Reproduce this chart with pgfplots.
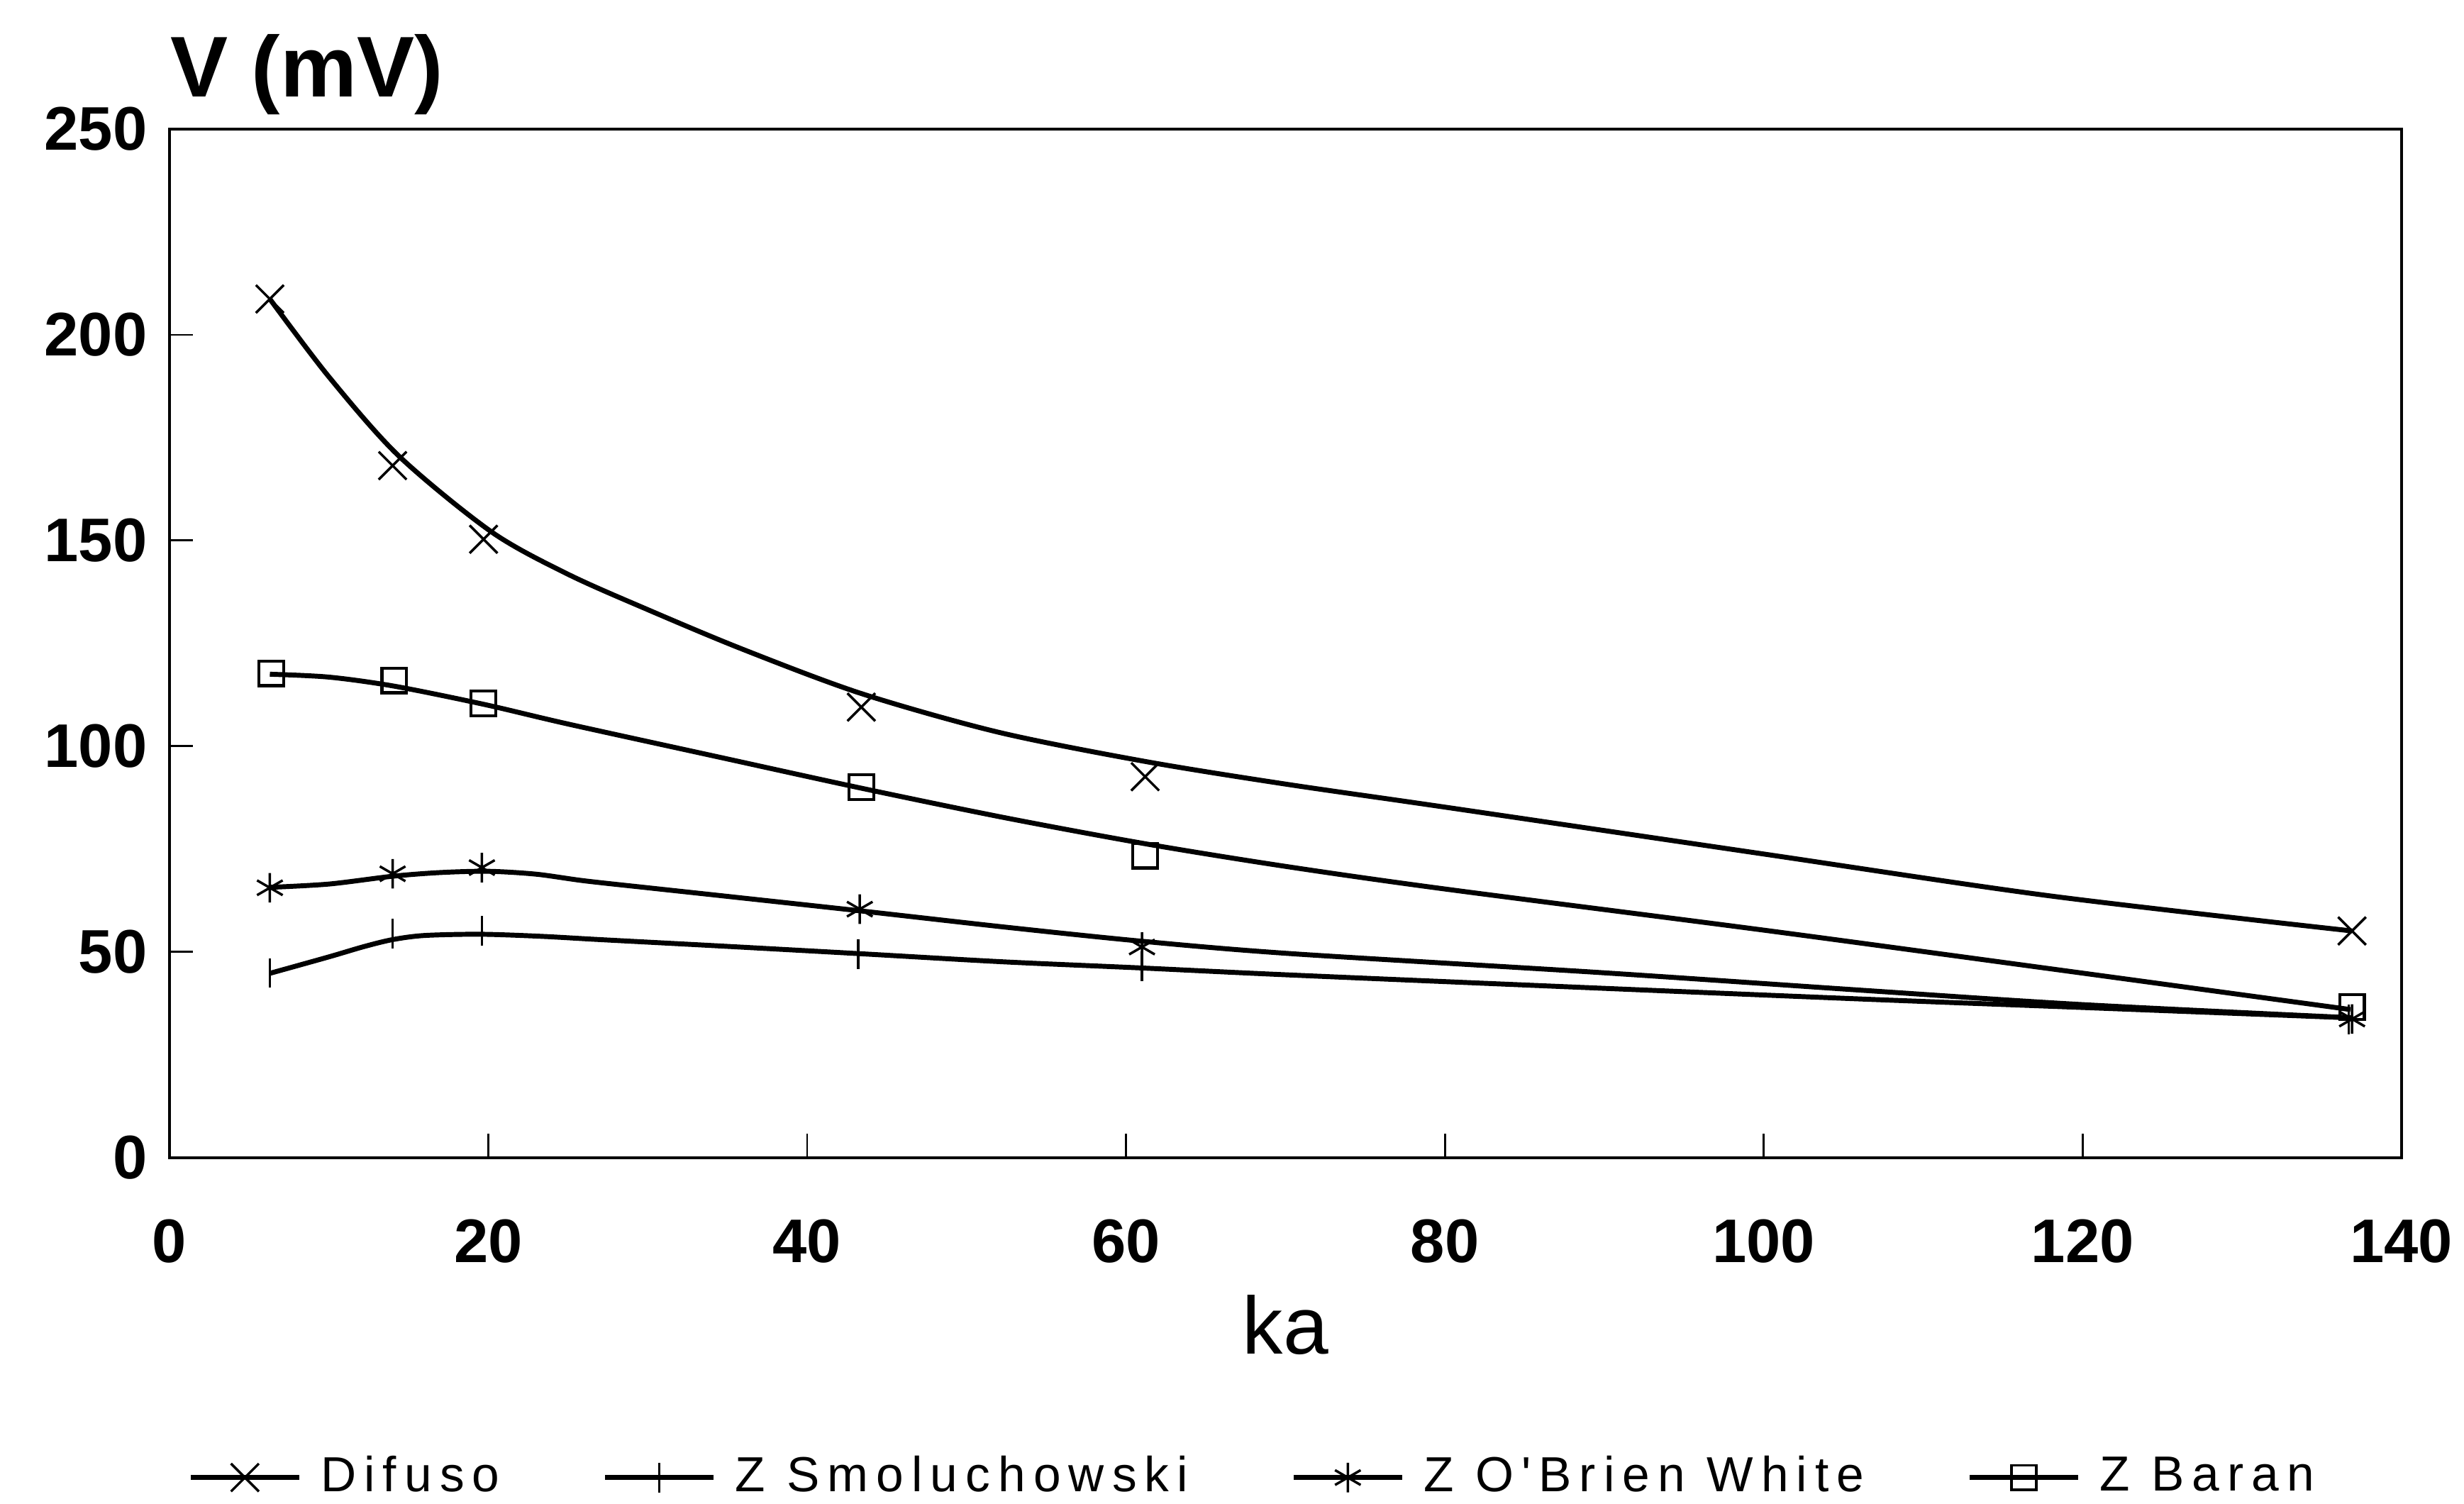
\documentclass[border=0pt]{standalone}
\usepackage{fontspec}
\setmainfont{Liberation Sans}
\newfontfamily\legfont[LetterSpace=16]{Liberation Sans}
\usepackage{pgfplots}
\usepackage{pgfplotstable}
\pgfplotsset{compat=1.18}

% marker positions
\pgfplotstableread{
x y
6.3 208.7
14.0 168.2
19.7 150.3
43.4 109.5
61.2 92.6
136.9 55.1
}\difmarks
\pgfplotstableread{
x y
6.3 44.9
14.0 54.4
19.6 55.1
43.2 49.5
61.0 46.5
136.7 33.6
}\smolmarks
\pgfplotstableread{
x y
6.3 65.6
14.0 69.0
19.6 70.5
43.3 60.4
61.0 51.2
136.9 33.7
}\obmarks
\pgfplotstableread{
x y
6.4 117.7
14.1 116.0
19.7 110.4
43.4 90.1
61.2 73.4
136.9 36.6
}\barmarks

% fitted curves as drawn
\pgfplotstableread{
x y
6.3 208.7
10.0 189.8
14.4 170.5
20.2 152.1
25.0 141.8
30.0 133.2
36.0 123.5
43.4 112.8
52.0 103.4
61.2 96.3
70.0 90.8
80.0 85.2
100.0 73.8
118.0 63.6
136.9 55.1
}\difline
\pgfplotstableread{
x y
6.3 44.8
10.0 48.8
12.2 51.3
14.0 53.0
16.0 54.0
19.5 54.3
23.3 53.8
27.0 53.0
34.3 51.5
43.2 49.6
52.3 47.6
61.0 46.1
70.3 44.4
89.7 41.2
106.5 38.5
120.0 36.5
136.7 34.0
}\smolline
\pgfplotstableread{
x y
6.3 65.7
10.0 66.5
14.0 68.4
17.0 69.3
20.0 69.6
23.0 68.9
26.0 67.3
30.0 65.6
34.3 63.8
43.3 60.0
52.5 56.0
61.0 52.6
70.3 49.6
89.7 45.0
106.5 40.6
120.0 37.2
136.9 34.0
}\obline
\pgfplotstableread{
x y
6.3 117.5
10.0 116.8
14.1 114.6
19.7 110.2
25.0 105.4
34.3 97.5
43.4 89.8
52.3 82.7
61.2 76.3
70.0 70.8
80.0 65.3
100.0 55.3
118.0 45.9
136.8 36.0
}\barline

\begin{document}
\begin{tikzpicture}
\begin{axis}[
  name=ax,
  scale only axis,
  width=453.2pt, height=208.8pt,
  xmin=0, xmax=140, ymin=0, ymax=250,
  xtick={0,20,...,140}, ytick={0,50,...,250},
  tick align=inside,
  xtick pos=left, ytick pos=left,
  major tick length=4.8pt,
  axis line style={line width=0.5pt},
  every tick/.style={black, line width=0.4pt},
  /pgf/number format/assume math mode=true,
  ticklabel style={font=\fontsize{12.5}{14}\selectfont\bfseries},
  xticklabel style={yshift=-9pt},
  yticklabel style={xshift=-1pt},
  xlabel={ka},
  xlabel style={at={(axis description cs:0.5,0)}, anchor=center, yshift=-34pt, font=\fontsize{16.5}{18}\selectfont},
  legend columns=4,
  legend style={draw=none, fill=none, at={(0.489,-0.311)}, anchor=center,
    inner sep=0pt, row sep=0pt,
    font=\legfont\fontsize{10}{12}\selectfont,
    nodes={inner sep=3.9pt},
    /tikz/every even column/.append style={column sep=17pt}},
  legend image code/.code={\draw[mark repeat=2,mark phase=2] plot coordinates {(0pt,0pt)(11pt,0pt)(22pt,0pt)};},
]
\addlegendimage{black, line width=1pt, mark=x, mark options={line width=0.5pt, mark size=4pt}}
\addlegendentry{Difuso}
\addlegendimage{black, line width=1pt, mark=|, mark options={line width=0.5pt, mark size=3pt}}
\addlegendentry{Z Smoluchowski}
\addlegendimage{black, line width=1pt, mark=asterisk, mark options={line width=0.5pt, mark size=3pt}}
\addlegendentry{Z O'Brien White}
\addlegendimage{black, line width=1pt, mark=square, mark options={line width=0.5pt, mark size=2.5pt, fill=white}}
\addlegendentry{Z Baran}

\addplot[forget plot, black, line width=1pt, smooth, no markers] table {\difline};
\addplot[forget plot, black, line width=1pt, smooth, no markers] table {\smolline};
\addplot[forget plot, black, line width=1pt, smooth, no markers] table {\obline};
\addplot[forget plot, black, line width=1pt, smooth, no markers] table {\barline};

\addplot[forget plot, only marks, black, mark=x, mark options={line width=0.5pt}, mark size=4pt] table {\difmarks};
\addplot[forget plot, only marks, black, mark=|, mark options={line width=0.5pt}, mark size=3pt] table {\smolmarks};
\addplot[forget plot, only marks, black, mark=asterisk, mark options={line width=0.5pt}, mark size=3pt] table {\obmarks};
\addplot[forget plot, only marks, black, mark=square, mark options={line width=0.6pt}, mark size=2.5pt] table {\barmarks};
\end{axis}
\node[anchor=base west, inner sep=0pt, font=\fontsize{17.5}{20}\selectfont\bfseries] at ([yshift=6.5pt]ax.north west) {V (mV)};
\pgfresetboundingbox
\path[use as bounding box] ([shift={(-34.4pt,-70.3pt)}]ax.south west) rectangle ([shift={(12.7pt,26.2pt)}]ax.north east);
\end{tikzpicture}
\end{document}
